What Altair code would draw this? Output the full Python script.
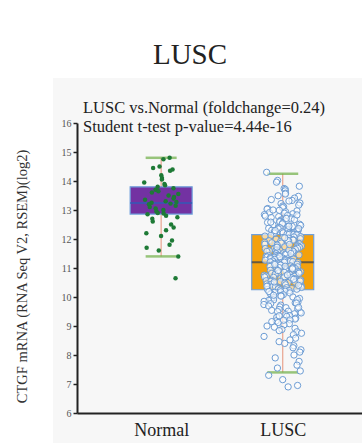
import math
import altair as alt
import pandas as pd

# ---- data -------------------------------------------------------------
groups = ["Normal", "LUSC"]
group_pos = [1, 2]

normal_values = [
    14.8, 14.75, 14.5, 14.45, 14.4, 14.35, 14.2, 14.1, 14.05, 13.95,
    13.9, 13.85, 13.8, 13.75, 13.7, 13.65, 13.6, 13.55, 13.5, 13.45,
    13.4, 13.35, 13.3, 13.28, 13.25, 13.22, 13.2, 13.15, 13.1, 13.05,
    13.0, 12.95, 12.9, 12.88, 12.85, 12.8, 12.75, 12.7, 12.6, 12.5,
    12.4, 12.3, 12.2, 12.1, 11.95, 11.8, 11.7, 11.6, 11.4, 10.65,
]

lusc_values = [
    # above the upper quartile
    14.3, 14.02, 13.96, 13.82, 13.74, 13.71, 13.66, 13.58, 13.55, 13.49,
    13.47, 13.41, 13.36, 13.33, 13.31, 13.24, 13.22, 13.17, 13.14, 13.11,
    13.08, 13.05, 13.03, 12.99, 12.97, 12.94, 12.91, 12.89, 12.87, 12.84,
    12.81, 12.79, 12.77, 12.74, 12.73, 12.69, 12.67, 12.66, 12.63, 12.61,
    12.59, 12.57, 12.55, 12.52, 12.51, 12.49, 12.47, 12.45, 12.43, 12.42,
    12.4, 12.38, 12.37, 12.35, 12.34, 12.32, 12.31, 12.3, 12.28, 12.27,
    12.26, 12.25, 12.24, 12.23, 12.22, 12.21, 12.2, 12.19, 12.18, 12.17,
    12.16, 12.16, 12.15, 12.29, 12.36, 12.44, 12.58, 12.71, 12.83, 13.0,
    # median to upper quartile
    12.14, 12.12, 12.1, 12.08, 12.07, 12.05, 12.03, 12.01, 11.99, 11.98,
    11.96, 11.94, 11.93, 11.91, 11.9, 11.88, 11.86, 11.85, 11.83, 11.82,
    11.8, 11.79, 11.77, 11.76, 11.74, 11.73, 11.71, 11.7, 11.68, 11.67,
    11.66, 11.64, 11.63, 11.61, 11.6, 11.59, 11.57, 11.56, 11.55, 11.53,
    11.52, 11.51, 11.49, 11.48, 11.47, 11.46, 11.44, 11.43, 11.42, 11.41,
    11.4, 11.38, 11.37, 11.36, 11.35, 11.34, 11.33, 11.32, 11.31, 11.3,
    11.29, 11.28, 11.27, 11.26, 11.25, 11.24, 11.23, 11.22, 11.21, 11.2,
    11.95, 11.87, 11.72, 11.58, 11.45, 11.39, 11.62, 11.81, 12.04, 11.5,
    # lower quartile to median
    11.19, 11.17, 11.16, 11.14, 11.13, 11.11, 11.1, 11.08, 11.07, 11.05,
    11.04, 11.02, 11.01, 10.99, 10.98, 10.96, 10.95, 10.93, 10.92, 10.9,
    10.89, 10.87, 10.86, 10.84, 10.83, 10.81, 10.8, 10.78, 10.77, 10.75,
    10.74, 10.72, 10.71, 10.69, 10.68, 10.66, 10.65, 10.63, 10.62, 10.6,
    10.59, 10.57, 10.56, 10.54, 10.53, 10.51, 10.5, 10.48, 10.47, 10.45,
    10.44, 10.42, 10.41, 10.39, 10.38, 10.36, 10.35, 10.33, 10.32, 10.3,
    10.29, 10.28, 10.27, 10.26, 10.25, 11.0, 10.85, 10.7, 10.55, 10.4,
    11.12, 10.97, 10.82, 10.67, 10.52, 10.37, 11.06, 10.91, 10.76, 10.61,
    # below the lower quartile
    10.24, 10.22, 10.2, 10.18, 10.16, 10.14, 10.12, 10.1, 10.08, 10.05,
    10.03, 10.0, 9.98, 9.95, 9.93, 9.9, 9.88, 9.85, 9.82, 9.8,
    9.77, 9.74, 9.72, 9.69, 9.66, 9.63, 9.6, 9.57, 9.54, 9.51,
    9.48, 9.45, 9.42, 9.39, 9.36, 9.33, 9.3, 9.27, 9.24, 9.21,
    9.18, 9.15, 9.12, 9.08, 9.04, 9.0, 8.96, 8.92, 8.88, 8.84,
    8.8, 8.75, 8.7, 8.64, 8.58, 8.52, 8.46, 8.4, 8.32, 8.25,
    8.18, 8.1, 8.0, 7.9, 7.78, 7.65, 7.55, 7.45, 7.3, 7.15,
    6.95, 6.9, 10.19, 10.06, 9.91, 9.79, 9.64, 9.5, 9.35, 9.2,
]

# box summaries per group
whisker_low = [11.4, 7.4]
q1 = [12.86, 10.25]
median = [13.24, 11.2]
q3 = [13.8, 12.15]
whisker_high = [14.8, 14.25]

y_ticks = [6, 7, 8, 9, 10, 11, 12, 13, 14, 15, 16]

title_text = "LUSC"
subtitle_lines = ["LUSC vs.Normal (foldchange=0.24)", "Student t-test p-value=4.44e-16"]
y_title = "CTGF  mRNA (RNA Seq V2, RSEM)(log2)"

# ---- tables -----------------------------------------------------------
def jitter(i, seed):
    v = math.sin((i + 1) * 12.9898 + seed * 78.233) * 43758.5453
    return (v - math.floor(v)) - 0.5

box_df = pd.DataFrame({
    "group": groups, "pos": group_pos, "lo": whisker_low, "q1": q1,
    "median": median, "q3": q3, "hi": whisker_high,
})

normal_df = pd.DataFrame({
    "value": normal_values,
    "x": [group_pos[0] + 0.29 * jitter(i, 1) for i in range(len(normal_values))],
})
lusc_df = pd.DataFrame({
    "value": lusc_values,
    "x": [group_pos[1] + 0.31 * jitter(i, 2) for i in range(len(lusc_values))],
})

FONT = "Liberation Serif"
x_scale = alt.Scale(domain=[0.349, 2.611], nice=False, zero=False)
y_scale = alt.Scale(domain=[6, 16], nice=False, zero=False)

label_expr = "[" + ",".join(f"'{g}'" for g in groups) + "][datum.value - 1]"

x_axis = alt.Axis(values=group_pos, labelExpr=label_expr, title=None, grid=False,
                  ticks=False, domainColor="#222", domainWidth=2,
                  labelFont=FONT, labelFontSize=18, labelColor="#222",
                  labelPadding=8, zindex=1)
y_axis = alt.Axis(values=y_ticks, title=y_title, grid=False, labelOverlap=False,
                  domainColor="#222", domainWidth=2, tickColor="#222",
                  tickSize=4, tickWidth=1.5, labelFont=FONT, labelFontSize=10,
                  labelColor="#555", labelPadding=2,
                  titleFont=FONT, titleFontSize=14.5, titleFontWeight="normal",
                  titleColor="#333", titleAngle=-90, titleX=-55, titleY=153,
                  titleAlign="center", titleBaseline="middle", zindex=1)


def xq(field):
    return alt.X(field, type="quantitative", scale=x_scale, axis=x_axis)


def yq(field):
    return alt.Y(field, type="quantitative", scale=y_scale, axis=y_axis)


base = alt.Chart(box_df)

panel = alt.Chart(pd.DataFrame({"k": [0]})).mark_rect(color="#f7f7f7").encode(
    x=alt.value(-24), x2=alt.value(285), y=alt.value(-45), y2=alt.value(320)
)

whisker = base.mark_rule(color="#E9A48F", strokeWidth=1.2).encode(
    x=xq("pos"), y=yq("lo"), y2="hi:Q",
)

box = base.mark_bar(size=62, stroke="#6FA0DC", strokeWidth=1.2).encode(
    x=xq("pos"), y=yq("q1"), y2="q3:Q",
    color=alt.Color("group:N", scale=alt.Scale(domain=groups, range=["#7332A2", "#F4A10C"]),
                    legend=None),
)

med = base.mark_tick(orient="horizontal", size=62, thickness=2).encode(
    x=xq("pos"), y=yq("median"),
    color=alt.Color("group:N", scale=alt.Scale(domain=groups, range=["#2E5BB8", "#2B3A55"]),
                    legend=None),
)

caps_lo = base.mark_tick(orient="horizontal", size=31, thickness=2.5, color="#6DAE45").encode(
    x=xq("pos"), y=yq("lo")
)
caps_hi = base.mark_tick(orient="horizontal", size=31, thickness=2.5, color="#6DAE45").encode(
    x=xq("pos"), y=yq("hi")
)

normal_pts = alt.Chart(normal_df).mark_circle(size=20, color="#1E7A36", opacity=1).encode(
    x=xq("x"), y=yq("value")
)
lusc_pts = alt.Chart(lusc_df).mark_point(size=40, shape="circle", filled=False,
                                         fill="#ffffff", fillOpacity=0.6,
                                         stroke="#6C9CD4", strokeWidth=1,
                                         opacity=1).encode(
    x=xq("x"), y=yq("value")
)

title_mark = alt.Chart(pd.DataFrame({"t": [title_text]})).mark_text(
    font=FONT, fontSize=29, color="#222", align="center", baseline="alphabetic"
).encode(text="t:N", x=alt.value(113), y=alt.value(-59))

sub_marks = [
    alt.Chart(pd.DataFrame({"t": [line]})).mark_text(
        font=FONT, fontSize=16.5, color="#222", align="left", baseline="alphabetic"
    ).encode(text="t:N", x=alt.value(6), y=alt.value(yy))
    for line, yy in zip(subtitle_lines, [-10, 9])
]

chart = alt.layer(
    panel, whisker, box, med, caps_lo, caps_hi, normal_pts, lusc_pts,
    title_mark, *sub_marks,
).resolve_scale(color="independent").properties(
    width=285, height=290,
    autosize=alt.AutoSizeParams(type="none"),
    padding={"left": 77, "top": 123, "right": 0, "bottom": 30},
    background="#ffffff",
).configure_view(stroke=None)

chart.save("out.html", embed_options={"renderer": "svg", "actions": False})
